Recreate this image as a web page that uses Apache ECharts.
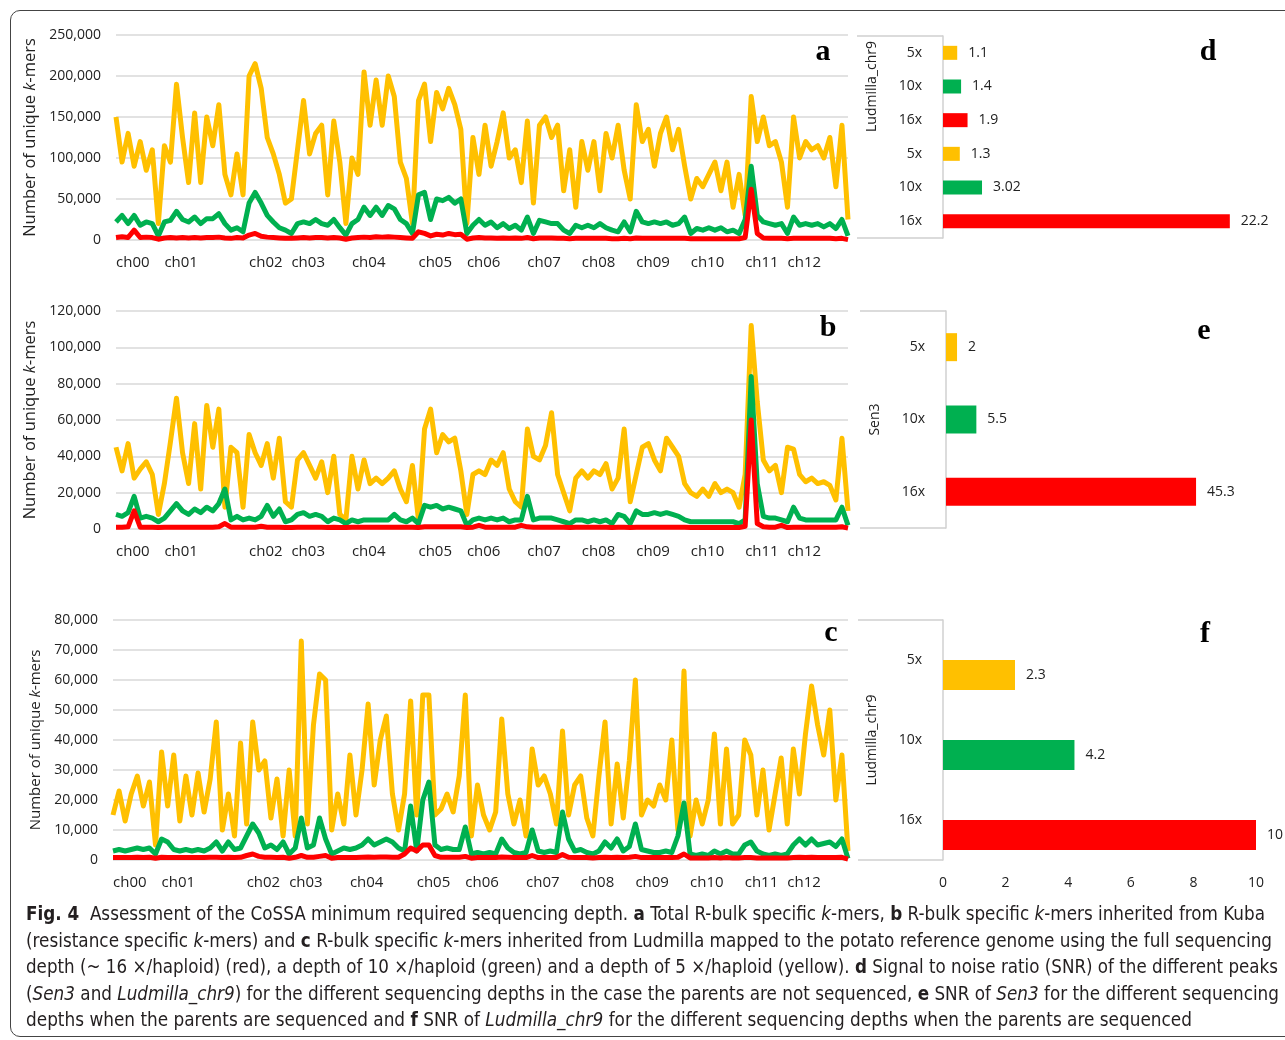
<!DOCTYPE html>
<html>
<head>
<meta charset="utf-8">
<script src="https://cdn.jsdelivr.net/npm/echarts@6/dist/echarts.min.js"></script>
<style>
  html, body { margin: 0; padding: 0; background: #fff; overflow: hidden; }
  #chart { position: absolute; left: 0; top: 0; width: 1285px; height: 900px; }
  .frame { position: absolute; left: 10px; top: 10px; width: 1300px; height: 1027px; border: 1px solid #444;
           border-radius: 10px; box-sizing: border-box; pointer-events: none; }
  .caption { position: absolute; left: 26px; top: 901px; color: #231f20;
             font-family: "Liberation Sans Narrow", "DejaVu Sans Condensed", sans-serif; font-size: 19.5px; line-height: 26.5px; }
  .caption div { white-space: nowrap; }
  .caption span.line { display: inline-block; transform-origin: 0 0; }
</style>
</head>
<body>
<div id="chart"></div>
<div class="frame"></div>
<div class="caption" id="caption">
  <div><span class="line" data-w="1239"><b>Fig. 4</b>&nbsp; Assessment of the CoSSA minimum required sequencing depth. <b>a</b> Total R-bulk specific <i>k</i>-mers, <b>b</b> R-bulk specific <i>k</i>-mers inherited from Kuba</span></div>
  <div><span class="line" data-w="1246">(resistance specific <i>k</i>-mers) and <b>c</b> R-bulk specific <i>k</i>-mers inherited from Ludmilla mapped to the potato reference genome using the full sequencing</span></div>
  <div><span class="line" data-w="1252">depth (~ 16 ×/haploid) (red), a depth of 10 ×/haploid (green) and a depth of 5 ×/haploid (yellow). <b>d</b> Signal to noise ratio (SNR) of the different peaks</span></div>
  <div><span class="line" data-w="1253">(<i>Sen3</i> and <i>Ludmilla_chr9</i>) for the different sequencing depths in the case the parents are not sequenced, <b>e</b> SNR of <i>Sen3</i> for the different sequencing</span></div>
  <div><span class="line" data-w="1166">depths when the parents are sequenced and <b>f</b> SNR of <i>Ludmilla_chr9</i> for the different sequencing depths when the parents are sequenced</span></div>
</div>
<script>
// chromosome labels on the genome axis
const chromNames = ['ch00', 'ch01', 'ch02', 'ch03', 'ch04', 'ch05', 'ch06', 'ch07', 'ch08', 'ch09', 'ch10', 'ch11', 'ch12'];
const chromStart = [0, 8, 22, 29, 39, 50, 58, 68, 77, 86, 95, 104, 111];

// a: total R-bulk specific k-mers (5x, 10x, 16x)
const a5 = [
  150000, 95000, 130000, 90000, 120000, 85000, 110000, 20000, 115000, 95000,
  190000, 125000, 70000, 155000, 70000, 150000, 115000, 165000, 80000, 55000,
  105000, 55000, 200000, 215000, 185000, 125000, 105000, 80000, 45000, 50000,
  110000, 170000, 105000, 130000, 140000, 55000, 145000, 95000, 20000, 100000,
  80000, 205000, 140000, 195000, 140000, 200000, 175000, 95000, 75000, 20000,
  170000, 190000, 120000, 180000, 160000, 185000, 165000, 135000, 20000, 125000,
  80000, 140000, 90000, 120000, 155000, 100000, 110000, 70000, 145000, 45000,
  140000, 150000, 125000, 140000, 60000, 110000, 40000, 120000, 85000, 120000,
  60000, 130000, 100000, 140000, 85000, 50000, 165000, 120000, 135000, 90000,
  130000, 150000, 110000, 135000, 90000, 50000, 75000, 65000, 80000, 95000,
  60000, 95000, 40000, 80000, 30000, 175000, 120000, 150000, 115000, 120000,
  95000, 40000, 150000, 100000, 120000, 110000, 115000, 100000, 125000, 65000,
  140000, 25000
];
const a10 = [
  22000, 30000, 20000, 30000, 18000, 22000, 20000, 5000, 22000, 24000,
  35000, 25000, 22000, 28000, 20000, 26000, 26000, 32000, 20000, 12000,
  15000, 10000, 45000, 58000, 45000, 30000, 22000, 15000, 12000, 8000,
  20000, 22000, 20000, 25000, 20000, 18000, 25000, 15000, 6000, 20000,
  25000, 40000, 30000, 40000, 30000, 42000, 38000, 25000, 20000, 8000,
  55000, 58000, 25000, 50000, 48000, 52000, 45000, 50000, 8000, 18000,
  25000, 18000, 22000, 15000, 20000, 14000, 18000, 12000, 28000, 8000,
  24000, 22000, 20000, 20000, 12000, 8000, 18000, 15000, 18000, 15000,
  20000, 15000, 12000, 10000, 22000, 10000, 35000, 22000, 20000, 22000,
  20000, 22000, 18000, 20000, 28000, 8000, 14000, 12000, 15000, 12000,
  15000, 10000, 12000, 8000, 25000, 90000, 30000, 22000, 20000, 18000,
  20000, 8000, 28000, 18000, 20000, 18000, 20000, 16000, 20000, 14000,
  25000, 5000
];
const a16 = [
  3000, 4000, 3000, 12000, 3000, 3500, 3000, 1000, 2500, 3000,
  2500, 3000, 2500, 3000, 2500, 3000, 3000, 3500, 2500, 2000,
  3000, 2500, 6000, 8000, 4500, 3500, 3000, 2500, 2000, 2000,
  2500, 3000, 2500, 3000, 3000, 2500, 3000, 2500, 1000, 2500,
  3000, 3500, 3000, 4000, 3500, 4000, 3500, 3000, 2500, 2000,
  10000, 8000, 5000, 7000, 6000, 8000, 6500, 7000, 1000, 2500,
  3000, 2500, 2500, 2000, 2500, 2000, 2500, 2000, 3000, 1500,
  2500, 2500, 2500, 2000, 2000, 1500, 2000, 2000, 2000, 2000,
  2000, 2000, 1500, 1500, 2000, 1500, 2500, 2000, 2000, 2000,
  2000, 2000, 2000, 2000, 2000, 1500, 1500, 1500, 1500, 1500,
  1500, 1500, 1500, 1500, 3000, 62000, 8000, 2500, 2000, 2000,
  2000, 1500, 2000, 2000, 2000, 2000, 2000, 2000, 2000, 1500,
  2000, 500
];

// b: R-bulk specific k-mers inherited from Kuba
const b5 = [
  45000, 32000, 47000, 28000, 33000, 37000, 30000, 8000, 25000, 48000,
  72000, 42000, 25000, 58000, 22000, 68000, 45000, 66000, 12000, 45000,
  42000, 12000, 52000, 42000, 35000, 47000, 28000, 50000, 15000, 12000,
  38000, 42000, 35000, 28000, 37000, 20000, 40000, 8000, 5000, 40000,
  22000, 38000, 25000, 28000, 25000, 28000, 32000, 22000, 15000, 35000,
  5000, 55000, 66000, 42000, 52000, 48000, 50000, 32000, 8000, 30000,
  32000, 30000, 38000, 35000, 42000, 22000, 15000, 12000, 55000, 40000,
  38000, 46000, 64000, 30000, 20000, 10000, 28000, 32000, 28000, 32000,
  30000, 36000, 22000, 28000, 55000, 15000, 30000, 45000, 47000, 38000,
  32000, 50000, 45000, 40000, 25000, 20000, 18000, 22000, 18000, 25000,
  20000, 22000, 20000, 12000, 30000, 112000, 70000, 38000, 32000, 35000,
  20000, 45000, 44000, 30000, 26000, 28000, 25000, 26000, 24000, 16000,
  50000, 10000
];
const b10 = [
  8000, 7000, 9000, 18000, 6000, 7000, 6000, 4000, 6000, 10000,
  14000, 10000, 8000, 11000, 9000, 12000, 10000, 14000, 22000, 5000,
  7000, 5000, 6000, 5000, 7000, 13000, 7000, 11000, 4000, 5000,
  8000, 9000, 7000, 8000, 7000, 4000, 6000, 5000, 3000, 5000,
  4000, 5000, 5000, 5000, 5000, 5000, 8000, 5000, 4000, 6000,
  3000, 13000, 12000, 13000, 11000, 12000, 11000, 10000, 2000, 5000,
  6000, 5000, 6000, 5000, 6000, 4000, 5000, 5000, 18000, 5000,
  6000, 6000, 6000, 5000, 4000, 3000, 5000, 5000, 4000, 5000,
  4000, 5000, 3000, 8000, 7000, 3000, 10000, 8000, 8000, 9000,
  8000, 9000, 8000, 7000, 5000, 4000, 4000, 4000, 4000, 4000,
  4000, 4000, 4000, 3000, 5000, 84000, 25000, 7000, 6000, 6000,
  5000, 4000, 12000, 6000, 5000, 5000, 5000, 5000, 5000, 5000,
  12000, 2000
];
const b16 = [
  1000, 1000, 1200, 10000, 1000, 1000, 1000, 800, 1000, 1000,
  1000, 1000, 1000, 1000, 1000, 1000, 1000, 1200, 3000, 1000,
  1000, 1000, 1000, 1000, 1500, 1000, 1000, 1000, 800, 800,
  1000, 1000, 1000, 1000, 1000, 800, 1000, 800, 800, 1000,
  1000, 1000, 1000, 1000, 1000, 1000, 1000, 1000, 1000, 1000,
  800, 1200, 1200, 1200, 1200, 1200, 1200, 1200, 800, 1000,
  2000, 1000, 1000, 1000, 1000, 1000, 1000, 2000, 1200, 1000,
  1000, 1000, 1000, 1000, 1000, 800, 1000, 1000, 1000, 1000,
  1000, 1000, 800, 1000, 1000, 800, 1000, 1000, 1000, 1000,
  1000, 1000, 1000, 1000, 1000, 800, 800, 800, 800, 800,
  800, 800, 800, 800, 1500, 60000, 3000, 1200, 1000, 1000,
  2000, 800, 1000, 1000, 1000, 1000, 1000, 1000, 1000, 1000,
  1200, 500
];

// c: R-bulk specific k-mers inherited from Ludmilla
const c5 = [
  15000, 23000, 13000, 22000, 28000, 18000, 26000, 5000, 36000, 18000,
  35000, 13000, 28000, 15000, 29000, 16000, 27000, 46000, 10000, 22000,
  8000, 39000, 12000, 46000, 30000, 33000, 14000, 27000, 8000, 30000,
  8000, 73000, 12000, 45000, 62000, 60000, 10000, 22000, 12000, 35000,
  15000, 30000, 52000, 25000, 40000, 48000, 22000, 10000, 22000, 53000,
  15000, 55000, 55000, 15000, 17000, 22000, 16000, 28000, 55000, 8000,
  25000, 15000, 10000, 16000, 47000, 22000, 12000, 20000, 8000, 37000,
  25000, 28000, 22000, 12000, 43000, 15000, 25000, 28000, 14000, 8000,
  28000, 46000, 12000, 32000, 14000, 33000, 60000, 15000, 20000, 18000,
  25000, 20000, 40000, 10000, 63000, 8000, 20000, 12000, 20000, 42000,
  12000, 37000, 12000, 15000, 40000, 35000, 15000, 30000, 10000, 22000,
  34000, 12000, 37000, 22000, 42000, 58000, 45000, 35000, 50000, 20000,
  35000, 3000
];
const c10 = [
  3000, 3500, 3000, 3500, 4000, 3500, 4000, 2000, 7000, 6000,
  3500, 3000, 3500, 3000, 3500, 3000, 4000, 6000, 3000, 6000,
  3500, 4000, 8000, 12000, 9000, 4000, 5000, 3500, 6000, 2000,
  4000, 14000, 4000, 5000, 14000, 7000, 2000, 3000, 4000, 3500,
  4000, 5000, 7000, 5000, 6000, 7000, 6000, 4000, 3000, 18000,
  3000, 20000, 26000, 5000, 3500, 4000, 3500, 3500, 11000, 2000,
  2500, 2000, 2500, 2000, 7000, 4000, 2500, 2000, 2500, 10000,
  3000, 2500, 3000, 2500, 16000, 7000, 3000, 3500, 2500, 2000,
  3000, 6000, 4000, 7000, 3000, 4500, 12000, 3500, 3000, 2500,
  2500, 3000, 2500, 8000, 19000, 2000, 1500, 2000, 1500, 3000,
  2000, 3000, 2000, 2000, 5000, 6000, 3000, 2000, 1500, 2000,
  1500, 2000, 5000, 7000, 5000, 7000, 5000, 5500, 6000, 4500,
  7000, 500
];
const c16 = [
  800, 800, 800, 800, 900, 800, 900, 600, 900, 800,
  800, 800, 800, 800, 800, 800, 900, 900, 800, 900,
  800, 900, 1500, 2000, 1200, 900, 900, 800, 900, 600,
  900, 1500, 900, 900, 1200, 1500, 600, 800, 800, 800,
  800, 900, 1000, 900, 1000, 1000, 900, 900, 2000, 4000,
  3000, 5000, 5000, 1500, 900, 900, 900, 900, 1200, 600,
  800, 800, 800, 800, 1000, 900, 800, 800, 800, 1500,
  800, 800, 800, 800, 1800, 900, 800, 800, 800, 700,
  800, 900, 800, 900, 800, 900, 1200, 800, 800, 800,
  800, 800, 800, 900, 2000, 700, 700, 700, 700, 800,
  700, 800, 700, 700, 800, 800, 700, 700, 700, 700,
  700, 700, 800, 900, 800, 900, 800, 800, 800, 800,
  900, 300
];

// d, e, f: signal to noise ratio per depth
const depthLabels = ['5x', '10x', '16x'];
const dGroups = ['Ludmilla_chr9', 'Sen3'];
const dValues = [1.1, 1.4, 1.9, 1.3, 3.02, 22.2];
const eGroups = ['Sen3'];
const eValues = [2, 5.5, 45.3];
const fGroups = ['Ludmilla_chr9'];
const fValues = [2.3, 4.2, 10];

const depthColors = ['#FFC000', '#00B050', '#FF0000'];
const fontUI = '"Open Sans", "Noto Sans", sans-serif';
const textColor = '#222';
const gridGray = '#d9d9d9';

const categories = a5.map((_, i) => {
  const k = chromStart.indexOf(i);
  return k >= 0 ? chromNames[k] : '';
});

const lineX = (gridIndex) => ({
  type: 'category', gridIndex, data: categories, boundaryGap: false,
  axisLine: { show: false }, axisTick: { show: false }, splitLine: { show: false },
  axisLabel: { interval: 0, align: 'left', margin: 15, fontFamily: fontUI, fontSize: 15, color: textColor }
});

const lineY = (gridIndex, max, step, nameGap, nameSize) => ({
  type: 'value', gridIndex, min: 0, max, interval: step,
  axisLine: { show: false }, axisTick: { show: false },
  splitLine: { lineStyle: { color: gridGray, width: 1.5 } },
  axisLabel: { margin: 15, fontFamily: fontUI, fontSize: 14, color: textColor,
               formatter: v => v.toLocaleString('en-US') },
  name: 'Number of unique {i|k}-mers', nameLocation: 'middle', nameGap,
  nameTextStyle: { fontFamily: fontUI, fontSize: nameSize, color: textColor,
                   rich: { i: { fontFamily: fontUI, fontSize: nameSize, fontStyle: 'italic', color: textColor } } }
});

const lineSeries = (axis, data, depth) => ({
  type: 'line', xAxisIndex: axis, yAxisIndex: axis, data,
  showSymbol: false, symbol: 'none', silent: true, z: 2 + depth,
  lineStyle: { width: 5, color: depthColors[depth], join: 'round' },
  itemStyle: { color: depthColors[depth] }
});

const barValueX = (gridIndex, max, show) => ({
  type: 'value', gridIndex, min: 0, max, interval: 2,
  axisLine: { show: false }, axisTick: { show: false }, splitLine: { show: false },
  axisLabel: { show, margin: 16, fontFamily: fontUI, fontSize: 14, color: textColor }
});

const depthY = (gridIndex, data) => ({
  type: 'category', gridIndex, data, inverse: true, position: 'left',
  axisLine: { show: false }, axisTick: { show: false },
  axisLabel: { margin: 21, fontFamily: fontUI, fontSize: 14, color: textColor }
});

const groupY = (gridIndex, data, tickLen) => ({
  type: 'category', gridIndex, data, inverse: true, position: 'left',
  axisLine: { show: true, lineStyle: { color: '#d0d0d0', width: 1.5 } },
  axisTick: { show: true, length: tickLen, lineStyle: { color: '#d0d0d0', width: 1.5 } },
  axisLabel: { rotate: 90, margin: 64, fontFamily: fontUI, fontSize: 14, color: textColor }
});

const barLabel = { show: true, position: 'right', distance: 11, fontFamily: fontUI, fontSize: 14, color: textColor };
const barColor = p => depthColors[p.dataIndex % 3];

const letterFont = 'bold 30px "Liberation Serif", "DejaVu Serif", serif';
const letter = (text, x, y) => ({ type: 'text', x, y, style: { text, font: letterFont, fill: '#000', align: 'center', verticalAlign: 'middle' } });

const chart = echarts.init(document.getElementById('chart'), null, { renderer: 'canvas' });
chart.setOption({
  animation: false,
  backgroundColor: 'transparent',
  grid: [
    { left: 116, top: 35, width: 732, height: 205 },
    { left: 116, top: 311, width: 732, height: 218 },
    { left: 113, top: 620, width: 735, height: 240 },
    { left: 943, top: 36, width: 323, height: 202 },
    { left: 946, top: 311, width: 276, height: 217 },
    { left: 943, top: 620, width: 313, height: 240 }
  ],
  xAxis: [
    lineX(0), lineX(1), lineX(2),
    barValueX(3, 25, false), barValueX(4, 50, false), barValueX(5, 10, true)
  ],
  yAxis: [
    lineY(0, 250000, 50000, 62, 16.5),
    lineY(1, 120000, 20000, 62, 16.5),
    lineY(2, 80000, 10000, 64, 15),
    depthY(3, depthLabels.concat(depthLabels)), groupY(3, dGroups, 86),
    depthY(4, depthLabels), groupY(4, eGroups, 86),
    depthY(5, depthLabels), groupY(5, fGroups, 85)
  ],
  series: [
    lineSeries(0, a5, 0), lineSeries(0, a10, 1), lineSeries(0, a16, 2),
    lineSeries(1, b5, 0), lineSeries(1, b10, 1), lineSeries(1, b16, 2),
    lineSeries(2, c5, 0), lineSeries(2, c10, 1), lineSeries(2, c16, 2),
    { type: 'bar', xAxisIndex: 3, yAxisIndex: 3, data: dValues, barWidth: 14,
      itemStyle: { color: barColor }, label: barLabel, silent: true },
    { type: 'bar', xAxisIndex: 4, yAxisIndex: 5, data: eValues, barWidth: 28,
      itemStyle: { color: barColor }, label: barLabel, silent: true },
    // empty slot: the original chart leaves a blank series above each bar
    { type: 'bar', xAxisIndex: 5, yAxisIndex: 7, data: [null, null, null], barWidth: 30, barGap: 0, silent: true },
    { type: 'bar', xAxisIndex: 5, yAxisIndex: 7, data: fValues, barWidth: 30, barGap: 0,
      itemStyle: { color: barColor }, label: barLabel, silent: true }
  ],
  graphic: [
    letter('a', 823, 52), letter('b', 828, 328), letter('c', 831, 633),
    letter('d', 1208, 52), letter('e', 1204, 331), letter('f', 1205, 634)
  ]
});

// squeeze each caption line to the width it has in the printed figure
document.querySelectorAll('#caption span.line').forEach(el => {
  const w = el.getBoundingClientRect().width;
  const target = +el.dataset.w;
  el.style.transform = 'scaleX(' + (target / w).toFixed(4) + ')';
});
</script>
</body>
</html>
